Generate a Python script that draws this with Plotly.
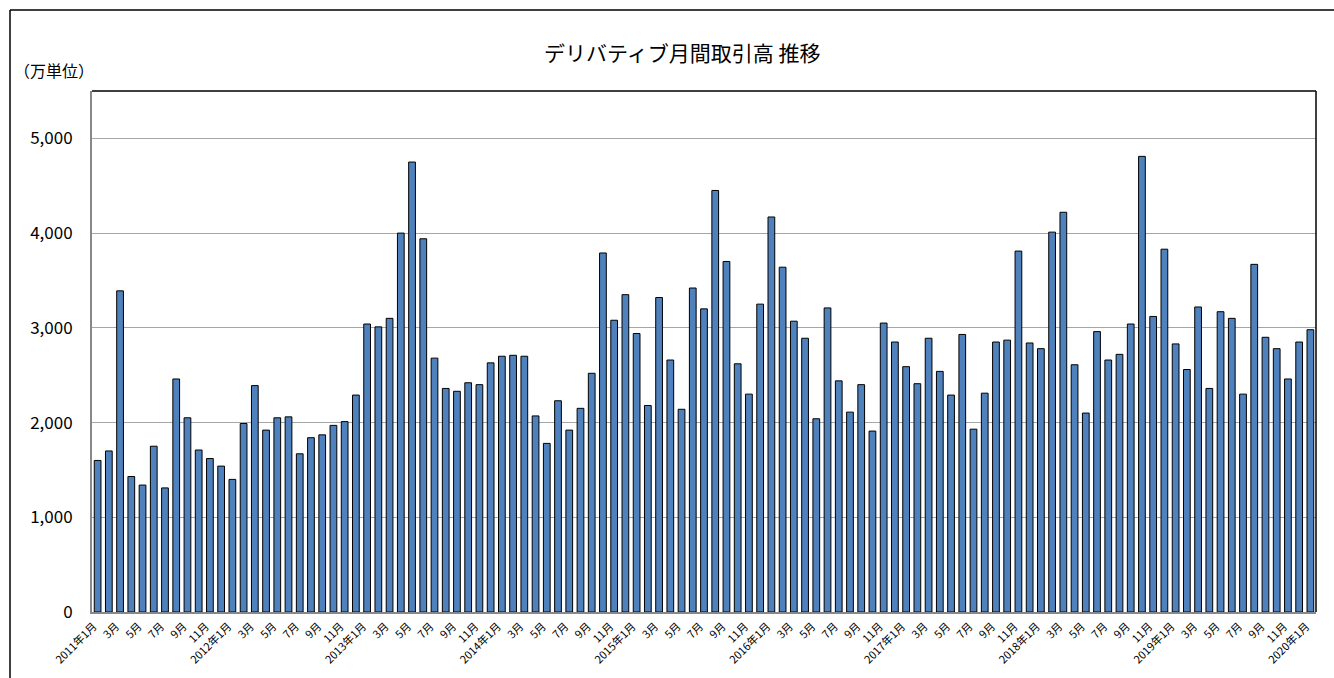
import plotly.graph_objects as go

# Monthly derivative trading volume (万単位)
v2011 = [1600, 1700, 3390, 1430, 1340, 1750, 1310, 2460, 2050, 1710, 1620, 1540]
v2012 = [1400, 1990, 2390, 1920, 2050, 2060, 1670, 1840, 1870, 1970, 2010, 2290]
v2013 = [3040, 3010, 3100, 4000, 4750, 3940, 2680, 2360, 2330, 2420, 2400, 2630]
v2014 = [2700, 2710, 2700, 2070, 1780, 2230, 1920, 2150, 2520, 3790, 3080, 3350]
v2015 = [2940, 2180, 3320, 2660, 2140, 3420, 3200, 4450, 3700, 2620, 2300, 3250]
v2016 = [4170, 3640, 3070, 2890, 2040, 3210, 2440, 2110, 2400, 1910, 3050, 2850]
v2017 = [2590, 2410, 2890, 2540, 2290, 2930, 1930, 2310, 2850, 2870, 3810, 2840]
v2018 = [2780, 4010, 4220, 2610, 2100, 2960, 2660, 2720, 3040, 4810, 3120, 3830]
v2019 = [2830, 2560, 3220, 2360, 3170, 3100, 2300, 3670, 2900, 2780, 2460, 2850]
v2020 = [2980]

years = [2011, 2012, 2013, 2014, 2015, 2016, 2017, 2018, 2019, 2020]
yearly = [v2011, v2012, v2013, v2014, v2015, v2016, v2017, v2018, v2019, v2020]

values = []
categories = []
for yr, vals in zip(years, yearly):
    for m, v in enumerate(vals, start=1):
        values.append(v)
        categories.append(f"{yr}年{m}月" if m == 1 else f"{m}月")

idx = list(range(len(values)))
tick_idx = [i for i in idx if i % 2 == 0]
tick_text = [categories[i] for i in tick_idx]

y_ticks = [0, 1000, 2000, 3000, 4000, 5000]
y_tick_text = ["0", "1,000", "2,000", "3,000", "4,000", "5,000"]

FONT = "Noto Sans CJK JP"

fig = go.Figure(go.Bar(
    x=idx, y=values,
    marker=dict(color="#4F81BD", line=dict(color="#000000", width=1)),
    hovertext=categories,
))

fig.update_layout(
    width=1334, height=678,
    autosize=False,
    margin=dict(l=92, r=18, t=91, b=66, autoexpand=False),
    paper_bgcolor="white", plot_bgcolor="white",
    bargap=0.4,
    showlegend=False,
    font=dict(family=FONT, color="#000000"),
    annotations=[
        dict(text="デリバティブ月間取引高 推移", xref="paper", yref="paper",
             x=0.482, y=1.0 + (91 - 52) / 521, xanchor="center", yanchor="middle",
             showarrow=False, font=dict(size=21, family=FONT)),
        dict(text="（万単位）", xref="paper", yref="paper",
             x=(12 - 92) / 1224, y=1.0 + (91 - 70) / 521, xanchor="left", yanchor="middle",
             showarrow=False, font=dict(size=16, family=FONT)),
    ],
    shapes=[
        dict(type="line", xref="paper", yref="paper", x0=0, x1=1, y0=1, y1=1,
             line=dict(color="#000000", width=1.5)),
        dict(type="line", xref="paper", yref="paper", x0=1, x1=1, y0=0, y1=1,
             line=dict(color="#000000", width=1.5)),
        dict(type="line", xref="paper", yref="paper",
             x0=(10 - 92) / 1224, x1=1.1, y0=1 + (91 - 10) / 521, y1=1 + (91 - 10) / 521,
             line=dict(color="#000000", width=1.5)),
        dict(type="line", xref="paper", yref="paper",
             x0=(10 - 92) / 1224, x1=(10 - 92) / 1224, y0=-0.3, y1=1 + (91 - 10) / 521,
             line=dict(color="#000000", width=1.5)),
    ],
)

fig.update_xaxes(
    type="linear",
    range=[-0.5, len(values) - 0.5],
    tickmode="array", tickvals=tick_idx, ticktext=tick_text,
    tickangle=-45, automargin=False,
    tickfont=dict(size=11, family=FONT),
    showgrid=False, zeroline=False,
    showline=True, linecolor="#888888", linewidth=2,
    ticks="",
)
fig.update_yaxes(
    range=[0, 5500],
    tickmode="array", tickvals=y_ticks, ticktext=y_tick_text,
    tickfont=dict(size=17, family=FONT),
    showgrid=True, gridcolor="#A6A6A6", gridwidth=1,
    zeroline=False, automargin=False,
    showline=True, linecolor="#888888", linewidth=2,
    ticks="", ticklabelstandoff=14,
)

post_js = r"""
document.body.style.margin='0';document.body.style.padding='0';
var gd = document.getElementById('{plot_id}');
function rotTicks(){
  document.querySelectorAll('.xtick text').forEach(function(t){
    var tr = t.getAttribute('transform') || '';
    var m = tr.match(/translate\(\s*([-\d.eE]+)[\s,]+([-\d.eE]+)\s*\)/);
    var a = m ? parseFloat(m[1]) : 0, b = m ? parseFloat(m[2]) : 0;
    var x = parseFloat(t.getAttribute('x') || 0), y = parseFloat(t.getAttribute('y') || 0);
    t.setAttribute('text-anchor', 'end');
    t.style.transformBox = 'view-box';
    t.style.transformOrigin = x + 'px ' + y + 'px';
    t.style.transform = 'translate(' + a + 'px,' + b + 'px) rotate(-45deg)';
  });
}
rotTicks();
if (gd && gd.on) { gd.on('plotly_afterplot', rotTicks); }
"""

fig.write_html(
    "out.html",
    config={"displayModeBar": False},
    post_script=post_js,
)
